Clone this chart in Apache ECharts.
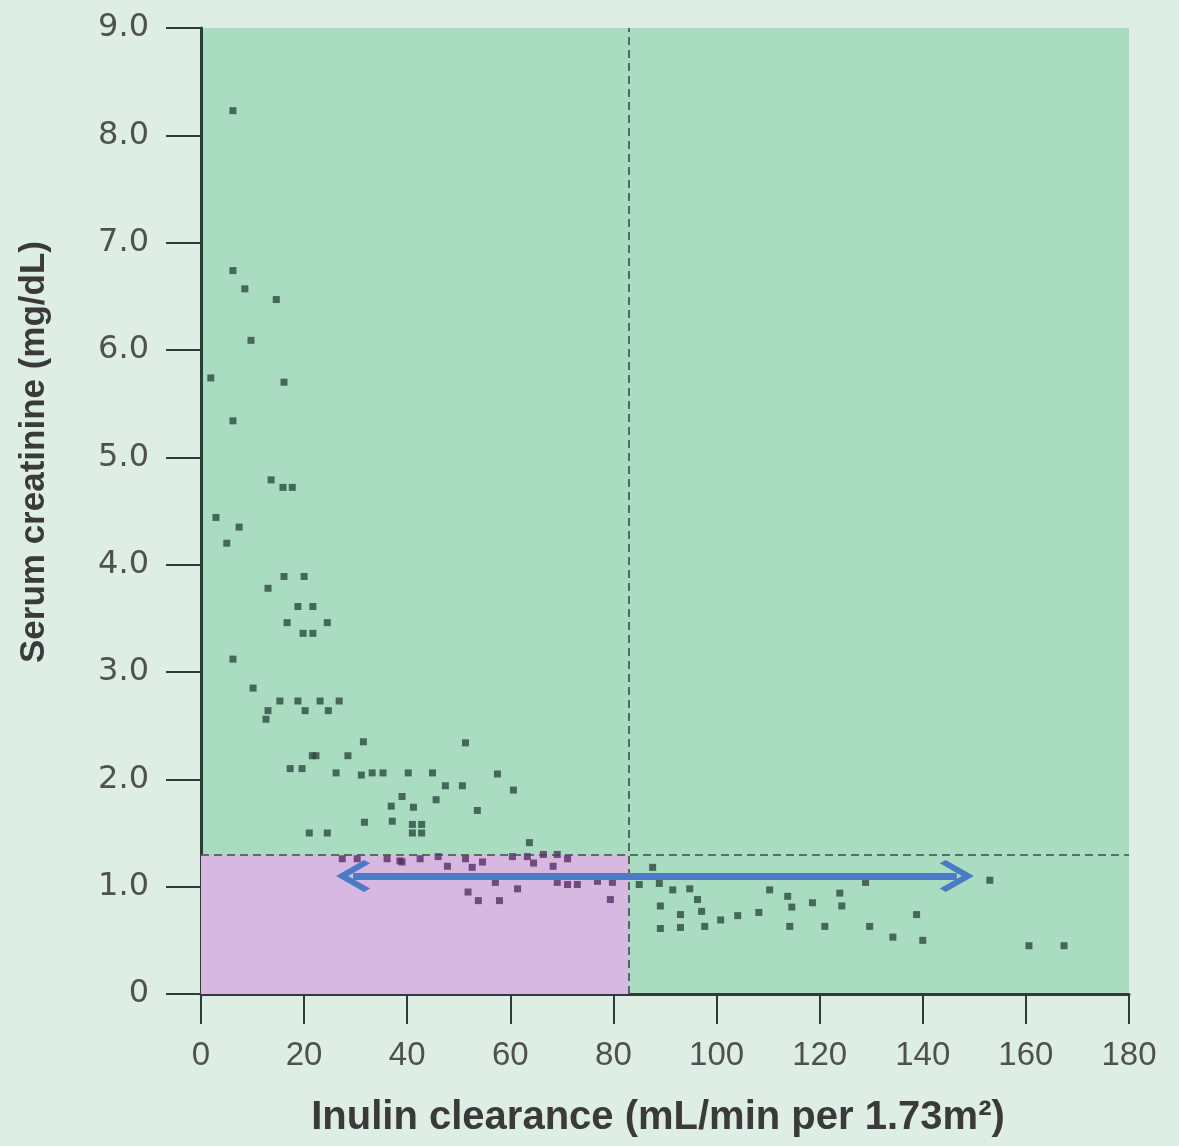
<!DOCTYPE html>
<html>
<head>
<meta charset="utf-8">
<title>Serum creatinine vs inulin clearance</title>
<script src="https://cdn.jsdelivr.net/npm/echarts@6/dist/echarts.min.js"></script>
<style>
  html, body { margin: 0; padding: 0; background: #deeee4; }
  #chart { width: 1179px; height: 1146px; }
</style>
</head>
<body>
<div id="chart"></div>
<script>
// inulin clearance (mL/min per 1.73m2) and serum creatinine (mg/dL)
var clearance = [
  6.2, 6.2, 8.5, 14.6, 9.7, 1.9, 16.1, 6.2, 13.6, 15.9, 17.7, 2.9, 7.4, 5.0,
  16.1, 20.0, 13.0, 18.8, 21.7, 16.7, 24.5, 19.8, 21.7, 6.2, 10.1,
  15.3, 18.8, 23.1, 26.8, 20.2, 24.7, 13.0, 12.6, 31.5, 21.6, 22.3, 28.5,
  17.3, 19.6, 26.2, 31.1, 33.2, 35.3, 40.2, 44.9, 39.0, 36.9, 41.2, 45.6,
  31.7, 37.1, 41.0, 42.8, 41.0, 42.8, 21.0, 24.5,
  27.4, 30.3, 36.1, 38.6, 42.5, 39.0,
  51.3, 57.5, 47.4, 50.7, 60.6, 53.6, 63.7,
  46.0, 47.8, 51.3, 52.6, 54.6, 60.4, 63.3, 64.5, 66.4, 69.1, 68.3, 71.1,
  57.1, 61.4, 51.8, 53.8, 57.9, 69.1, 71.1, 73.0, 76.9, 79.8, 79.4,
  85.0, 87.6, 88.9, 91.5, 94.8, 96.3, 89.1, 93.0, 97.1, 89.1, 93.0, 97.7,
  100.8, 104.1, 108.2, 110.3, 113.8, 114.6, 114.2, 118.6, 121.0, 123.9, 124.3,
  128.9, 129.7, 134.2, 153.0, 138.8, 140.0, 160.6, 167.4
];
var creatinine = [
  8.23, 6.74, 6.57, 6.47, 6.09, 5.74, 5.70, 5.34, 4.79, 4.72, 4.72, 4.44, 4.35, 4.20,
  3.89, 3.89, 3.78, 3.61, 3.61, 3.46, 3.46, 3.36, 3.36, 3.12, 2.85,
  2.73, 2.73, 2.73, 2.73, 2.64, 2.64, 2.64, 2.56, 2.35, 2.22, 2.22, 2.22,
  2.10, 2.10, 2.06, 2.04, 2.06, 2.06, 2.06, 2.06, 1.84, 1.75, 1.74, 1.81,
  1.60, 1.61, 1.58, 1.58, 1.50, 1.50, 1.50, 1.50,
  1.26, 1.26, 1.26, 1.24, 1.26, 1.23,
  2.34, 2.05, 1.94, 1.94, 1.90, 1.71, 1.41,
  1.28, 1.19, 1.26, 1.18, 1.23, 1.28, 1.28, 1.22, 1.30, 1.30, 1.19, 1.26,
  1.04, 0.98, 0.95, 0.87, 0.87, 1.04, 1.02, 1.02, 1.05, 1.04, 0.88,
  1.02, 1.18, 1.03, 0.97, 0.98, 0.88, 0.82, 0.74, 0.77, 0.61, 0.62, 0.63,
  0.69, 0.73, 0.76, 0.97, 0.91, 0.81, 0.63, 0.85, 0.63, 0.94, 0.82,
  1.04, 0.63, 0.53, 1.06, 0.74, 0.50, 0.45, 0.45
];

// cut-offs drawn as dashed lines, and the double arrow (centres of the arrow heads)
var clearanceCutoff = 83;
var creatinineCutoff = 1.3;
var arrowFrom = [29.5, 1.1];
var arrowTo = [146.6, 1.1];

var points = clearance.map(function (x, i) { return [x, creatinine[i]]; });

// open chevron, tip pointing up (ECharts turns it along the line)
var chevron = 'path://M0,0 L14,14 L11,17 L0,6 L-11,17 L-14,14 Z';

var chart = echarts.init(document.getElementById('chart'));
chart.setOption({
  backgroundColor: '#deeee4',
  grid: {
    left: 201, right: 50, top: 28, bottom: 152,
    show: true, backgroundColor: '#a9dcc0', borderWidth: 0
  },
  graphic: [
    {
      type: 'text', x: 34, y: 452, rotation: Math.PI / 2,
      style: {
        text: 'Serum creatinine (mg/dL)', fill: '#3a3a3a',
        font: 'bold 35px "Liberation Sans"', textAlign: 'center', textVerticalAlign: 'middle'
      }
    },
    {
      type: 'text', x: 658, y: 1118,
      style: {
        text: 'Inulin clearance (mL/min per 1.73m\u00b2)', fill: '#3a3a3a',
        font: 'bold 40px "Liberation Sans"', textAlign: 'center', textVerticalAlign: 'middle'
      }
    }
  ],
  xAxis: {
    type: 'value', min: 0, max: 180, interval: 20,
    axisLine: { lineStyle: { color: '#2f3b35', width: 3 } },
    axisTick: { length: 30, lineStyle: { color: '#2f3b35', width: 2 } },
    axisLabel: { margin: 45, fontFamily: 'Liberation Sans', fontSize: 33, color: '#505050' },
    splitLine: { show: false }
  },
  yAxis: {
    type: 'value', min: 0, max: 9, interval: 1,
    axisLine: { show: true, lineStyle: { color: '#2f3b35', width: 3 } },
    axisTick: { length: 35, lineStyle: { color: '#2f3b35', width: 2 } },
    axisLabel: {
      margin: 52, fontFamily: 'DejaVu Sans', fontSize: 32, color: '#505050',
      formatter: function (v) { return v === 0 ? '0' : v.toFixed(1); }
    },
    splitLine: { show: false }
  },
  series: [
    {
      type: 'scatter',
      symbol: 'rect',
      symbolSize: 7,
      z: 3,
      itemStyle: {
        color: function (p) {
          var d = p.value;
          return (d[0] < clearanceCutoff && d[1] < creatinineCutoff + 0.05) ? '#5a2d68' : '#2c4a42';
        }
      },
      data: points,
      markArea: {
        silent: true,
        itemStyle: { color: '#d6b8e1' },
        data: [[{ coord: [0, 0] }, { coord: [clearanceCutoff, creatinineCutoff] }]]
      },
      markLine: {
        silent: true,
        symbol: 'none',
        label: { show: false },
        lineStyle: { color: '#3f4d47', type: [8, 5], width: 1.6 },
        data: [
          { xAxis: clearanceCutoff },
          { yAxis: creatinineCutoff }
        ]
      }
    },
    {
      type: 'scatter',
      data: [],
      z: 5,
      markLine: {
        silent: true,
        symbol: [chevron, chevron],
        symbolSize: [32, 34],
        label: { show: false },
        lineStyle: { color: '#4a7bc4', type: 'solid', width: 7 },
        itemStyle: { color: '#4a7bc4' },
        data: [[{ coord: arrowFrom }, { coord: arrowTo }]]
      }
    }
  ]
});
</script>
</body>
</html>
